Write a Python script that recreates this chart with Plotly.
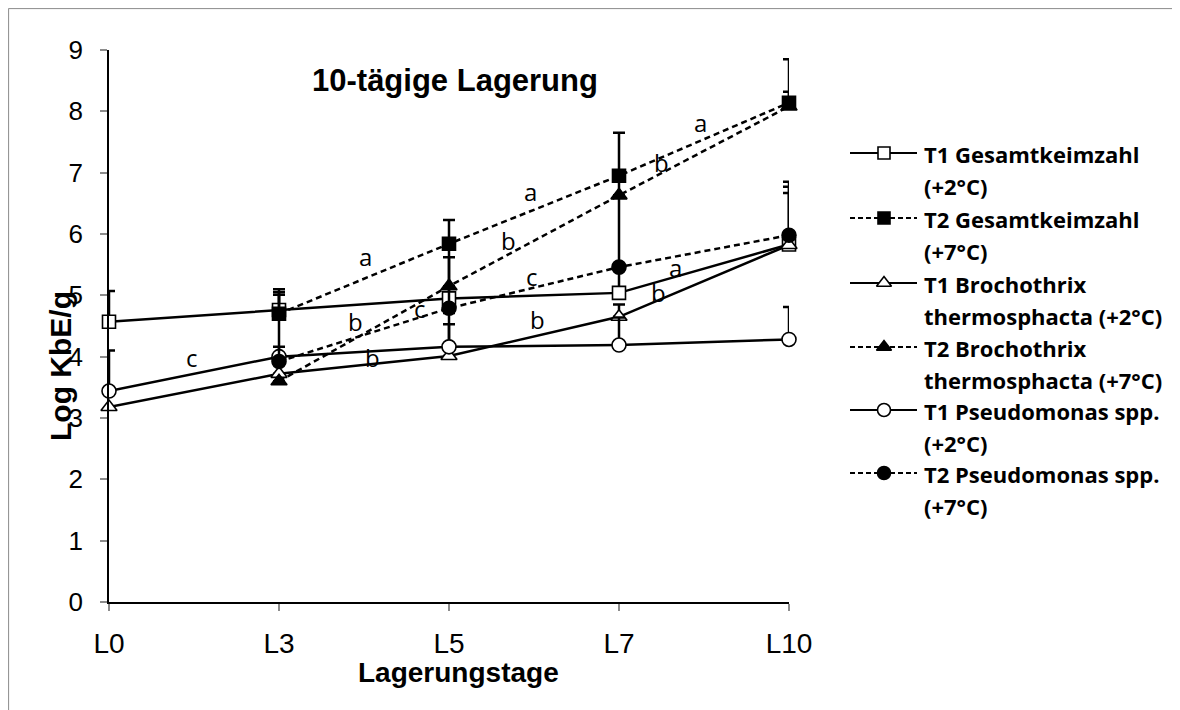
import plotly.graph_objects as go

# ---------------- data ----------------
categories = ["L0", "L3", "L5", "L7", "L10"]

t1_gesamt = [4.57, 4.76, 4.95, 5.04, 5.83]
t2_gesamt = [None, 4.70, 5.84, 6.95, 8.14]
t1_broch = [3.18, 3.72, 4.01, 4.65, 5.82]
t2_broch = [None, 3.60, 5.15, 6.63, 8.08]
t1_pseudo = [3.44, 4.00, 4.16, 4.19, 4.28]
t2_pseudo = [None, 3.92, 4.79, 5.46, 5.98]

t1_gesamt_err = [0.50, 0.34, 0.85, 0.40, 0.94]
t2_gesamt_err = [0.0, 0.35, 0.39, 0.70, 0.71]
t1_broch_err = [0.0, 0.0, 0.70, 0.20, 0.85]
t2_broch_err = [0.0, 0.0, 0.47, 0.30, 0.24]
t1_pseudo_err = [0.66, 1.01, 0.37, 0.45, 0.53]
t2_pseudo_err = [0.0, 0.24, 0.35, 1.15, 0.87]

series_names = [
    ["T1 Gesamtkeimzahl", "(+2°C)"],
    ["T2 Gesamtkeimzahl", "(+7°C)"],
    ["T1 Brochothrix", "thermosphacta (+2°C)"],
    ["T2 Brochothrix", "thermosphacta (+7°C)"],
    ["T1 Pseudomonas spp.", "(+2°C)"],
    ["T2 Pseudomonas spp.", "(+7°C)"],
]

chart_title = "10-tägige Lagerung"
x_title = "Lagerungstage"
y_title = "Log KbE/g"

# significance letters (text, x position as category index, y value)
letters = [
    ("c", 0.49, 3.98), ("a", 1.51, 5.63), ("b", 1.45, 4.57), ("b", 1.55, 3.99),
    ("c", 1.83, 4.79), ("a", 2.48, 6.69), ("b", 2.35, 5.90), ("c", 2.49, 5.30),
    ("b", 2.52, 4.60), ("a", 3.48, 7.81), ("b", 3.25, 7.17), ("a", 3.33, 5.46),
    ("b", 3.23, 5.05),
]

# ---------------- geometry / styles ----------------
OFF = 8                 # page body margin
PW, PH = 1180, 710      # window size
W, H = PW - OFF, PH - OFF
X0, X1 = 109, 789       # plot area in window px
Y0, Y1 = 602, 50

series = [
    (t1_gesamt, t1_gesamt_err, "square", "white", "solid"),
    (t2_gesamt, t2_gesamt_err, "square", "black", "6px,4px"),
    (t1_broch, t1_broch_err, "triangle-up", "white", "solid"),
    (t2_broch, t2_broch_err, "triangle-up", "black", "6px,4px"),
    (t1_pseudo, t1_pseudo_err, "circle", "white", "solid"),
    (t2_pseudo, t2_pseudo_err, "circle", "black", "6px,4px"),
]
msize = {"square": 13, "triangle-up": 14, "circle": 14}

fig = go.Figure()

for (vals, err, sym, fill, dash), name in zip(series, series_names):
    fig.add_trace(go.Scatter(
        x=categories, y=vals, mode="lines+markers",
        name=" ".join(name), showlegend=False,
        line=dict(color="black", width=2.5, dash=dash),
        marker=dict(symbol=sym, size=msize[sym], color=fill,
                    line=dict(color="black", width=1.6)),
        error_y=dict(type="data", symmetric=False, array=err,
                     arrayminus=[0] * len(err), width=6, thickness=2.5,
                     color="black"),
        cliponaxis=False, xaxis="x", yaxis="y",
    ))

# ---------------- manual legend on a pixel overlay axis ----------------
leg_rows = [153, 218, 283, 347, 410, 473]
annotations = []
for (vals, err, sym, fill, dash), name, ry in zip(series, series_names, leg_rows):
    fig.add_trace(go.Scatter(
        x=[850, 917], y=[ry, ry], mode="lines", showlegend=False,
        line=dict(color="black", width=2.2,
                  dash="solid" if dash == "solid" else "5px,3px"),
        xaxis="x2", yaxis="y2", hoverinfo="skip", cliponaxis=False,
    ))
    fig.add_trace(go.Scatter(
        x=[884], y=[ry], mode="markers", showlegend=False,
        marker=dict(symbol=sym, size=msize[sym] - 1, color=fill,
                    line=dict(color="black", width=1.6)),
        xaxis="x2", yaxis="y2", hoverinfo="skip", cliponaxis=False,
    ))
    for k, line in enumerate(name):
        annotations.append(dict(
            x=922, y=ry + 1 + 32 * k, xref="x2", yref="y2", text=line,
            showarrow=False, xanchor="left", yanchor="middle",
            font=dict(family="Open Sans", size=22, color="black", weight="bold"),
        ))

for txt, lx, ly in letters:
    annotations.append(dict(
        x=lx, y=ly, xref="x", yref="y", text=txt, showarrow=False,
        xanchor="center", yanchor="middle",
        font=dict(family="Open Sans", size=24, color="black"),
    ))

annotations.append(dict(
    x=455, y=80, xref="x2", yref="y2", text=chart_title, showarrow=False,
    xanchor="center", yanchor="middle",
    font=dict(family="Liberation Sans", size=31, color="black", weight="bold"),
))
annotations.append(dict(
    x=458, y=672, xref="x2", yref="y2", text=x_title, showarrow=False,
    xanchor="center", yanchor="middle",
    font=dict(family="Liberation Sans", size=28, color="black", weight="bold"),
))
annotations.append(dict(
    x=60, y=366, xref="x2", yref="y2", text=y_title, showarrow=False,
    xanchor="center", yanchor="middle", textangle=-90,
    font=dict(family="Liberation Sans", size=30, color="black", weight="bold"),
))

# outer frame (top + left edges visible in reference)
shapes = [
    dict(type="line", xref="x2", yref="y2", x0=8.5, x1=1180, y0=8.6, y1=8.6,
         line=dict(color="#8c8c8c", width=1)),
    dict(type="line", xref="x2", yref="y2", x0=8.6, x1=8.6, y0=8.5, y1=710,
         line=dict(color="#8c8c8c", width=1)),
]

fig.update_layout(
    width=W, height=H,
    margin=dict(l=0, r=0, t=0, b=0),
    paper_bgcolor="white", plot_bgcolor="rgba(0,0,0,0)",
    template="none",
    showlegend=False,
    annotations=annotations,
    shapes=shapes,
    xaxis=dict(
        domain=[(X0 - OFF) / W, (X1 - OFF) / W], type="category",
        categoryorder="array", categoryarray=categories,
        range=[0, 4], showgrid=False, zeroline=False,
        showline=True, linecolor="black", linewidth=1.5,
        ticks="outside", ticklen=7, tickwidth=1.5, tickcolor="#8c8c8c",
        tickfont=dict(family="Liberation Sans", size=28, color="black"),
        ticklabelstandoff=9, automargin=False, anchor="y", fixedrange=True,
    ),
    yaxis=dict(
        domain=[(PH - Y0) / H, (PH - Y1) / H],
        range=[0, 9], dtick=1, tick0=0, showgrid=False, zeroline=False,
        showline=True, linecolor="black", linewidth=1.5,
        ticks="outside", ticklen=7, tickwidth=1.5, tickcolor="#8c8c8c",
        tickfont=dict(family="Liberation Sans", size=26, color="black"),
        ticklabelstandoff=12, automargin=False, anchor="x", fixedrange=True,
    ),
    xaxis2=dict(domain=[0, 1], range=[OFF, PW], visible=False, anchor="y2",
                fixedrange=True),
    yaxis2=dict(domain=[0, 1], range=[PH, OFF], visible=False, anchor="x2",
                fixedrange=True),
)

fig.write_html("out.html")
